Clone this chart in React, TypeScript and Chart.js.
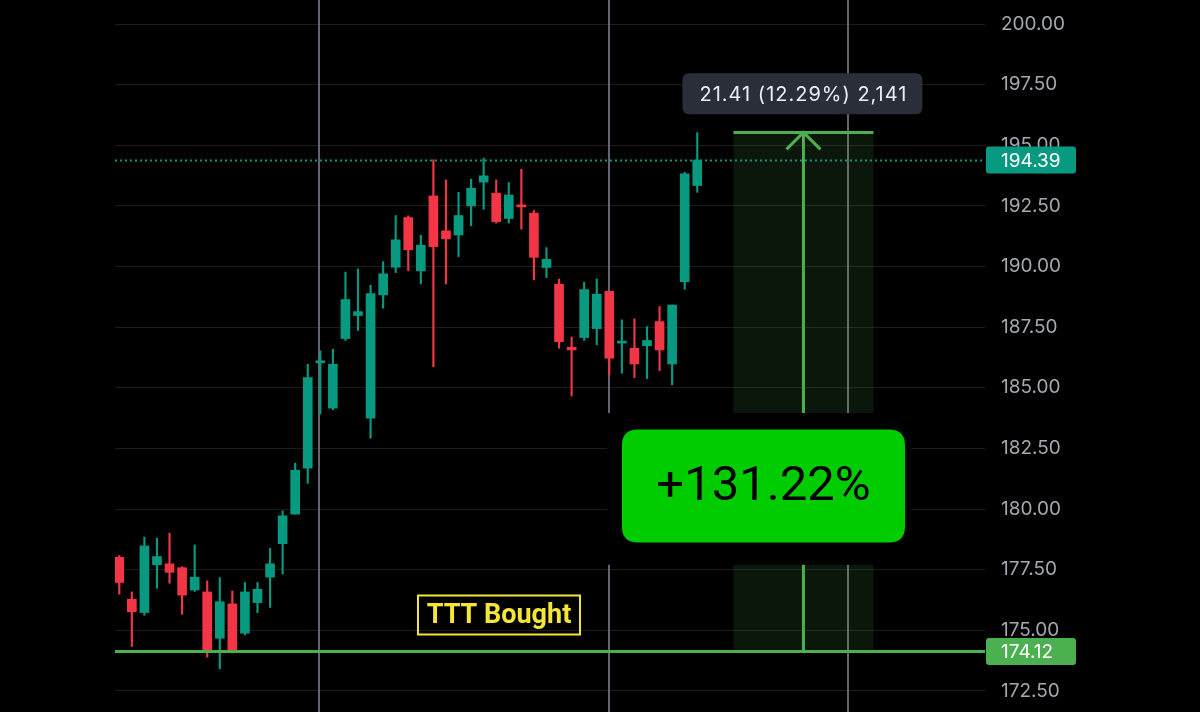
import React, { useEffect, useRef } from "react";
import { Chart, registerables } from "chart.js";

Chart.register(...registerables);

// ---- OHLC data (one entry per candle, oldest first) ----
const opens = [
  178.01, 176.28, 175.73, 177.7, 177.74, 177.58, 176.66, 176.58, 174.67, 176.09,
  174.88, 176.14, 177.19, 178.57, 179.79, 181.68, 186.03, 184.16, 187.03, 187.98,
  183.75, 188.83, 189.97, 192.02, 189.82, 192.91, 191.47, 191.3, 192.5, 193.48,
  193.02, 191.98, 192.53, 192.2, 189.96, 189.27, 186.67, 187.07, 187.44, 188.98,
  186.84, 186.63, 186.73, 187.73, 185.98, 189.38, 193.34,
];
const highs = [
  178.08, 176.58, 178.84, 178.8, 179.0, 177.62, 178.52, 177.04, 177.17, 176.62,
  176.97, 176.97, 178.38, 179.92, 181.89, 185.97, 186.52, 186.59, 189.77, 189.9,
  189.23, 190.2, 192.1, 192.09, 191.29, 194.4, 193.57, 193.06, 193.6, 194.47,
  193.57, 193.46, 194.01, 192.31, 190.78, 189.48, 187.09, 189.35, 189.49, 188.98,
  187.8, 187.84, 187.52, 188.35, 188.41, 193.89, 195.52,
];
const lows = [
  176.49, 174.33, 175.62, 176.73, 176.94, 175.66, 176.6, 173.89, 173.41, 174.12,
  174.81, 175.73, 175.94, 177.32, 179.79, 181.06, 183.92, 184.09, 186.95, 187.36,
  182.92, 188.28, 189.75, 189.83, 189.28, 185.87, 189.28, 190.41, 191.68, 192.36,
  191.79, 191.79, 191.54, 189.45, 189.54, 186.63, 184.66, 186.95, 186.77, 185.53,
  185.6, 185.42, 185.38, 185.71, 185.12, 189.06, 193.06,
];
const closes = [
  176.97, 175.76, 178.48, 178.04, 177.39, 176.45, 177.19, 174.15, 176.18, 174.19,
  176.58, 176.69, 177.74, 179.72, 181.6, 185.42, 186.07, 185.97, 188.64, 188.14,
  188.88, 189.7, 191.1, 190.69, 190.88, 190.82, 191.14, 192.1, 193.23, 193.74,
  191.85, 192.95, 192.46, 190.38, 190.3, 186.9, 186.56, 189.05, 188.86, 186.22,
  186.9, 185.98, 186.95, 186.56, 188.41, 193.82, 194.39,
];

// ---- axis / annotation values ----
const priceTicks = [172.5, 175, 177.5, 180, 182.5, 185, 187.5, 190, 192.5, 195, 197.5, 200];
const lastPrice = 194.39;
const boughtPrice = 174.12;
const measureChange = 21.41;
const measurePct = "12.29%";
const measureBars = "2,141";
const gainLabel = "+131.22%";
const boughtLabel = "TTT Bought";
const sessionMarks = [15.9, 38.97, 58.0];

// annotation placement in data units (bar index / price)
const ANN = {
  xMin: -0.34,
  xMax: 68.9,
  yMin: 171.63,
  yMax: 200.99,
  measureX0: 48.88,
  measureX1: 60.02,
  arrowX: 54.45,
  clearX0: 38.82,
  clearX1: 63.0,
  clearY0: 183.96,
  clearY1: 177.7,
  badgeX: 51.27,
  badgeY: 180.95,
  boughtX: 30.22,
  boughtY: 175.63,
  tipY: 197.12,
};

const UP = "#089981";
const DOWN = "#f23645";
const GREEN = "#4caf50";

function rr(ctx: CanvasRenderingContext2D, x: number, y: number, w: number, h: number, r: number) {
  ctx.beginPath();
  ctx.moveTo(x + r, y);
  ctx.lineTo(x + w - r, y);
  ctx.quadraticCurveTo(x + w, y, x + w, y + r);
  ctx.lineTo(x + w, y + h - r);
  ctx.quadraticCurveTo(x + w, y + h, x + w - r, y + h);
  ctx.lineTo(x + r, y + h);
  ctx.quadraticCurveTo(x, y + h, x, y + h - r);
  ctx.lineTo(x, y + r);
  ctx.quadraticCurveTo(x, y, x + r, y);
  ctx.closePath();
}

const overlay = {
  id: "overlay",
  beforeDatasetsDraw(chart: any) {
    const { ctx, chartArea: ca, scales } = chart;
    const x = scales.x, y = scales.y;
    ctx.save();
    ctx.strokeStyle = "#62656f";
    ctx.lineWidth = 2;
    sessionMarks.forEach((v) => {
      const px = Math.round(x.getPixelForValue(v));
      ctx.beginPath();
      ctx.moveTo(px, ca.top);
      ctx.lineTo(px, ca.bottom);
      ctx.stroke();
    });
    const x0 = x.getPixelForValue(ANN.measureX0);
    const x1 = x.getPixelForValue(ANN.measureX1);
    const yTop = y.getPixelForValue(boughtPrice + measureChange);
    const yBot = y.getPixelForValue(boughtPrice);
    ctx.fillStyle = "rgba(76,175,80,0.13)";
    ctx.fillRect(x0, yTop, x1 - x0, yBot - yTop);
    ctx.restore();
  },
  afterDatasetsDraw(chart: any) {
    const { ctx, chartArea: ca, scales } = chart;
    const x = scales.x, y = scales.y;
    ctx.save();
    // last price dotted line
    const yl = Math.round(y.getPixelForValue(lastPrice)) + 0.5;
    ctx.strokeStyle = UP;
    ctx.lineWidth = 2;
    ctx.setLineDash([2, 3]);
    ctx.beginPath();
    ctx.moveTo(ca.left, yl);
    ctx.lineTo(ca.right - 3, yl);
    ctx.stroke();
    ctx.setLineDash([]);
    // bought line
    const yb = y.getPixelForValue(boughtPrice);
    ctx.strokeStyle = GREEN;
    ctx.lineWidth = 3;
    ctx.beginPath();
    ctx.moveTo(ca.left, yb);
    ctx.lineTo(ca.right, yb);
    ctx.stroke();
    // measure top + arrow
    const x0 = x.getPixelForValue(ANN.measureX0);
    const x1 = x.getPixelForValue(ANN.measureX1);
    const ax = x.getPixelForValue(ANN.arrowX);
    const yTop = y.getPixelForValue(boughtPrice + measureChange);
    ctx.beginPath();
    ctx.moveTo(x0, yTop);
    ctx.lineTo(x1, yTop);
    ctx.moveTo(ax, yTop);
    ctx.lineTo(ax, yb);
    ctx.moveTo(ax - 17, yTop + 17);
    ctx.lineTo(ax, yTop);
    ctx.lineTo(ax + 17, yTop + 17);
    ctx.stroke();
    // clear area behind badge
    const cx0 = x.getPixelForValue(ANN.clearX0);
    const cx1 = x.getPixelForValue(ANN.clearX1);
    const cy0 = y.getPixelForValue(ANN.clearY0);
    const cy1 = y.getPixelForValue(ANN.clearY1);
    ctx.fillStyle = "#000";
    ctx.fillRect(cx0, cy0, cx1 - cx0, cy1 - cy0);
    // badge
    const bx = x.getPixelForValue(ANN.badgeX);
    const by = y.getPixelForValue(ANN.badgeY);
    ctx.fillStyle = "#00cc00";
    rr(ctx, bx - 141.5, by - 56.5, 283, 113, 16);
    ctx.fill();
    ctx.fillStyle = "#000";
    ctx.font = "400 49px Roboto";
    ctx.textAlign = "center";
    ctx.textBaseline = "middle";
    ctx.fillText(gainLabel, bx, by + 2);
    // measure tooltip
    const ty = y.getPixelForValue(ANN.tipY);
    ctx.fillStyle = "#2a2e39";
    rr(ctx, ax - 121, ty - 20.5, 240, 41, 7);
    ctx.fill();
    ctx.fillStyle = "#eceef2";
    ctx.font = "400 20px Inter";
    (ctx as any).letterSpacing = "1px";
    ctx.fillText(`${measureChange.toFixed(2)} (${measurePct}) ${measureBars}`, ax, ty + 1);
    (ctx as any).letterSpacing = "0px";
    // bought label
    const lx = x.getPixelForValue(ANN.boughtX);
    const ly = y.getPixelForValue(ANN.boughtY);
    ctx.strokeStyle = "#f5e634";
    ctx.lineWidth = 2;
    ctx.strokeRect(lx - 81, ly - 19.5, 162, 39);
    ctx.fillStyle = "#f5e634";
    ctx.font = "700 27px Roboto";
    ctx.fillText(boughtLabel, lx, ly + 1);
    ctx.restore();
  },
  afterDraw(chart: any) {
    const { ctx, chartArea: ca, scales } = chart;
    const y = scales.y;
    ctx.save();
    const tags: [number, string][] = [
      [lastPrice, UP],
      [boughtPrice, GREEN],
    ];
    tags.forEach(([v, c]) => {
      const py = y.getPixelForValue(v);
      ctx.fillStyle = c;
      rr(ctx, ca.right + 1, py - 13.5, 90, 27, 3);
      ctx.fill();
      ctx.fillStyle = "#ffffff";
      ctx.font = "400 19px Inter";
      ctx.textAlign = "left";
      ctx.textBaseline = "middle";
      ctx.fillText(v.toFixed(2), ca.right + 16, py + 1);
    });
    ctx.restore();
  },
};

export default function App() {
  const ref = useRef<HTMLCanvasElement | null>(null);
  useEffect(() => {
    if (!ref.current) return;
    const wicks = lows.map((l, i) => ({ x: i, y: [l, highs[i]] }));
    const bodies = opens.map((o, i) => ({ x: i, y: [Math.min(o, closes[i]), Math.max(o, closes[i])] }));
    const colors = opens.map((o, i) => (closes[i] >= o ? UP : DOWN));
    const chart = new Chart(ref.current, {
      type: "bar",
      data: {
        datasets: [
          {
            data: bodies as any,
            backgroundColor: colors,
            barThickness: 9,
            grouped: false,
            minBarLength: 2,
            borderWidth: 0,
            order: 1,
          } as any,
          {
            data: wicks as any,
            backgroundColor: colors,
            barThickness: 1.5,
            grouped: false,
            borderWidth: 0,
            order: 2,
          } as any,
        ],
      },
      options: {
        animation: false,
        responsive: false,
        events: [],
        layout: { autoPadding: false, padding: { left: 115, right: 0, top: 0, bottom: 0 } },
        plugins: { legend: { display: false }, tooltip: { enabled: false } },
        scales: {
          x: {
            type: "linear",
            offset: false,
            min: ANN.xMin,
            max: ANN.xMax,
            display: false,
            grid: { offset: false },
          },
          y: {
            type: "linear",
            position: "right",
            min: ANN.yMin,
            max: ANN.yMax,
            afterBuildTicks: (s: any) => {
              s.ticks = priceTicks.map((v) => ({ value: v }));
            },
            afterFit: (s: any) => {
              s.width = 215;
              s.paddingTop = 0;
              s.paddingBottom = 0;
            },
            border: { display: false },
            grid: { color: "#1c1c1e", lineWidth: 1, drawTicks: false },
            ticks: {
              padding: 16,
              color: "#a5a8b0",
              font: { family: "Inter", size: 19 },
              callback: (v: any) => Number(v).toFixed(2),
            },
          },
        },
      } as any,
      plugins: [overlay as any],
    });
    return () => chart.destroy();
  }, []);
  return (
    <div style={{ position: "fixed", left: 0, top: 0, width: 1200, height: 712, background: "#000" }}>
      <canvas ref={ref} width={1200} height={712} style={{ display: "block" }} />
    </div>
  );
}
